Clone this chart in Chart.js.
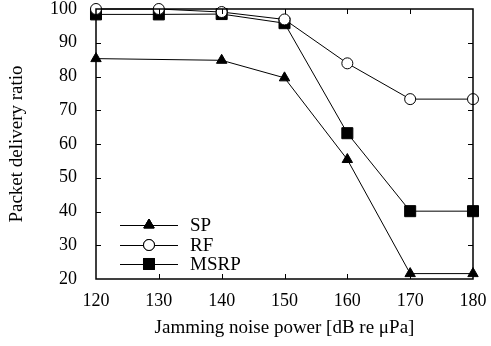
<!DOCTYPE html>
<html>
<head>
<meta charset="utf-8">
<script src="https://cdn.jsdelivr.net/npm/chart.js@4"></script>
<style>
  html, body { margin: 0; padding: 0; background: #fff; }
  #wrap { width: 491px; height: 346px; }
</style>
</head>
<body>
<div id="wrap"><canvas id="myChart" width="491" height="346"></canvas></div>
<script>
const noisePower = [120, 130, 140, 150, 160, 170, 180];
const sp   = [85.3, null, 84.8, 79.6, 55.4, 21.6, 21.6];
const rf   = [100, 100, 99.1, 96.9, 83.9, 73.3, 73.3];
const msrp = [98.4, 98.4, 98.5, 95.8, 63.2, 40.1, 40.1];
const xTicks = [130, 140, 150, 160, 170];
const yTicks = [30, 40, 50, 60, 70, 80, 90];

const serif = 'Liberation Serif';

function toPoints(ys) {
    return ys.map((v, i) => ({x: noisePower[i], y: v}));
}

// ticks pointing inward on all four sides + box frame
const frame = {
    id: 'frame',
    afterDatasetsDraw(chart) {
        const {ctx, chartArea: a, scales} = chart;
        ctx.save();
        ctx.strokeStyle = '#000';
        ctx.lineWidth = 1.5;
        ctx.strokeRect(a.left, a.top, a.right - a.left, a.bottom - a.top);
        ctx.lineWidth = 1;
        ctx.beginPath();
        xTicks.forEach(t => {
            const x = Math.round(scales.x.getPixelForValue(t)) + 0.5;
            ctx.moveTo(x, a.bottom); ctx.lineTo(x, a.bottom - 5);
            ctx.moveTo(x, a.top); ctx.lineTo(x, a.top + 5);
        });
        yTicks.forEach(t => {
            const y = Math.round(scales.y.getPixelForValue(t)) + 0.5;
            ctx.moveTo(a.left, y); ctx.lineTo(a.left + 5, y);
            ctx.moveTo(a.right, y); ctx.lineTo(a.right - 5, y);
        });
        ctx.stroke();
        ctx.restore();
    }
};

// legend drawn inside the plot, lower left
const innerLegend = {
    id: 'innerLegend',
    afterDraw(chart) {
        const ctx = chart.ctx;
        const rows = [225, 245, 264];
        ctx.save();
        chart.data.datasets.forEach((ds, i) => {
            const y = rows[i];
            ctx.strokeStyle = '#000';
            ctx.lineWidth = 1;
            ctx.beginPath();
            ctx.moveTo(120, y + 0.5); ctx.lineTo(178, y + 0.5);
            ctx.stroke();
            Chart.helpers.drawPoint(ctx, {
                pointStyle: ds.pointStyle,
                radius: ds.pointRadius,
                borderWidth: 1,
                rotation: 0
            }, 149, y);
            ctx.fillStyle = ds.pointBackgroundColor;
            ctx.fill();
            ctx.stroke();
            ctx.fillStyle = '#000';
            ctx.font = '19px "' + serif + '"';
            ctx.textBaseline = 'middle';
            ctx.textAlign = 'left';
            ctx.fillText(ds.label, 190, y + 1);
        });
        ctx.restore();
    }
};

const config = {
    type: 'line',
    data: {
        datasets: [
            {
                label: 'SP',
                data: toPoints(sp),
                pointStyle: 'triangle',
                pointRadius: 6,
                pointBackgroundColor: '#000',
                spanGaps: true
            },
            {
                label: 'RF',
                data: toPoints(rf),
                pointStyle: 'circle',
                pointRadius: 5.5,
                pointBackgroundColor: '#fff'
            },
            {
                label: 'MSRP',
                data: toPoints(msrp),
                pointStyle: 'rect',
                pointRadius: 7.8,
                pointBackgroundColor: '#000'
            }
        ].map(d => Object.assign({
            borderColor: '#000',
            borderWidth: 1,
            pointBorderColor: '#000',
            pointBorderWidth: 1,
            pointHoverRadius: d.pointRadius,
            tension: 0,
            clip: false
        }, d))
    },
    options: {
        responsive: false,
        animation: false,
        layout: { padding: { top: 9, right: 18, left: 0, bottom: 0 } },
        plugins: { legend: { display: false }, tooltip: { enabled: false } },
        scales: {
            x: {
                type: 'linear',
                min: 120, max: 180,
                grid: { display: false },
                border: { display: false },
                ticks: {
                    stepSize: 10, color: '#000', padding: 3,
                    font: { family: serif, size: 18 }
                },
                title: {
                    display: true, text: 'Jamming noise power [dB re μPa]',
                    color: '#000', font: { family: serif, size: 19 },
                    padding: { top: 0, bottom: 7 }
                },
                afterFit(scale) {
                    scale.height = 67;
                    scale.paddingLeft = 0;
                    scale.paddingRight = 0;
                }
            },
            y: {
                min: 20, max: 100,
                grid: { display: false },
                border: { display: false },
                ticks: {
                    stepSize: 10, color: '#000', padding: 11,
                    font: { family: serif, size: 18 }
                },
                title: {
                    display: true, text: 'Packet delivery ratio',
                    color: '#000', font: { family: serif, size: 19 },
                    padding: { top: 6, bottom: 0 }
                },
                afterFit(scale) {
                    scale.width = 96;
                    scale.paddingTop = 0;
                    scale.paddingBottom = 0;
                }
            }
        }
    },
    plugins: [frame, innerLegend]
};

var myChart = new Chart(document.getElementById('myChart'), config);
</script>
</body>
</html>
